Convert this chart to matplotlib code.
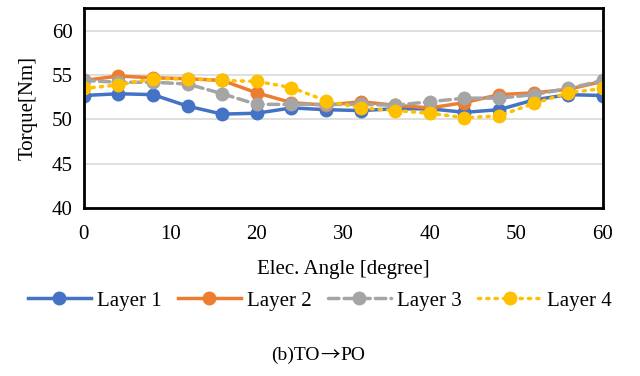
import numpy as np
import matplotlib.pyplot as plt

plt.rcParams['font.family'] = ['Liberation Serif', 'DejaVu Serif']

# electrical angle (degree)
angle = [0, 4, 8, 12, 16, 20, 24, 28, 32, 36, 40, 44, 48, 52, 56, 60]

# torque [Nm] per layer
layer1 = [52.7, 52.9, 52.8, 51.5, 50.6, 50.7, 51.3, 51.1, 51.0, 51.2, 51.2, 50.8, 51.1, 52.2, 52.8, 52.7]
layer2 = [54.4, 54.9, 54.7, 54.6, 54.4, 53.0, 51.9, 51.6, 52.0, 51.6, 51.3, 51.9, 52.8, 53.0, 53.4, 54.3]
layer3 = [54.4, 54.2, 54.2, 54.0, 52.9, 51.7, 51.7, 51.7, 51.7, 51.6, 52.0, 52.4, 52.4, 52.8, 53.5, 54.4]
layer4 = [53.5, 53.9, 54.6, 54.6, 54.4, 54.3, 53.6, 52.1, 51.3, 51.0, 50.7, 50.2, 50.4, 51.8, 53.0, 53.5]

labels = ['Layer 1', 'Layer 2', 'Layer 3', 'Layer 4']
colors = ['#4472C4', '#ED7D31', '#A5A5A5', '#FFC000']
styles = ['-', '-', (0, (3, 1.5)), (0, (0.6, 1.8))]

fig = plt.figure(figsize=(6.4, 3.76), dpi=100)
ax = fig.add_axes([0.131, 0.447, 0.811, 0.532])

for ys, lab, c, ls in zip([layer1, layer2, layer3, layer4], labels, colors, styles):
    ax.plot(angle, ys, color=c, linestyle=ls, linewidth=2.5, marker='o',
            markersize=9, label=lab, dash_capstyle='round')

ax.set_xlim(0, 60)
ax.set_ylim(40, 62.6)
ax.set_xticks([0, 10, 20, 30, 40, 50, 60])
ax.set_yticks([40, 45, 50, 55, 60])
ax.yaxis.grid(True, color='#D9D9D9', linewidth=1.2)
ax.set_axisbelow(True)
ax.tick_params(length=0, labelsize=15)
ax.tick_params(axis='x', pad=12)
ax.tick_params(axis='y', pad=8)
for s in ax.spines.values():
    s.set_linewidth(2)
    s.set_color('black')

ax.set_xlabel('Elec. Angle [degree]', fontsize=15, labelpad=12)
ax.set_ylabel('Torque[Nm]', fontsize=15, labelpad=10)

fig.legend(loc='center', bbox_to_anchor=(0.5, 0.2), ncol=4, frameon=False,
           fontsize=15, handlelength=3.0, columnspacing=0.8, handletextpad=0.3)

fig.text(0.5, 0.055, '(b)TO', ha='right', va='center', fontsize=14)
fig.text(0.5, 0.055, '\u2192', ha='left', va='center', fontsize=14,
         family=['Noto Sans CJK JP', 'DejaVu Sans'])
fig.text(0.5 + 0.032, 0.055, 'PO', ha='left', va='center', fontsize=14)

fig.savefig('out.png', dpi=100)
